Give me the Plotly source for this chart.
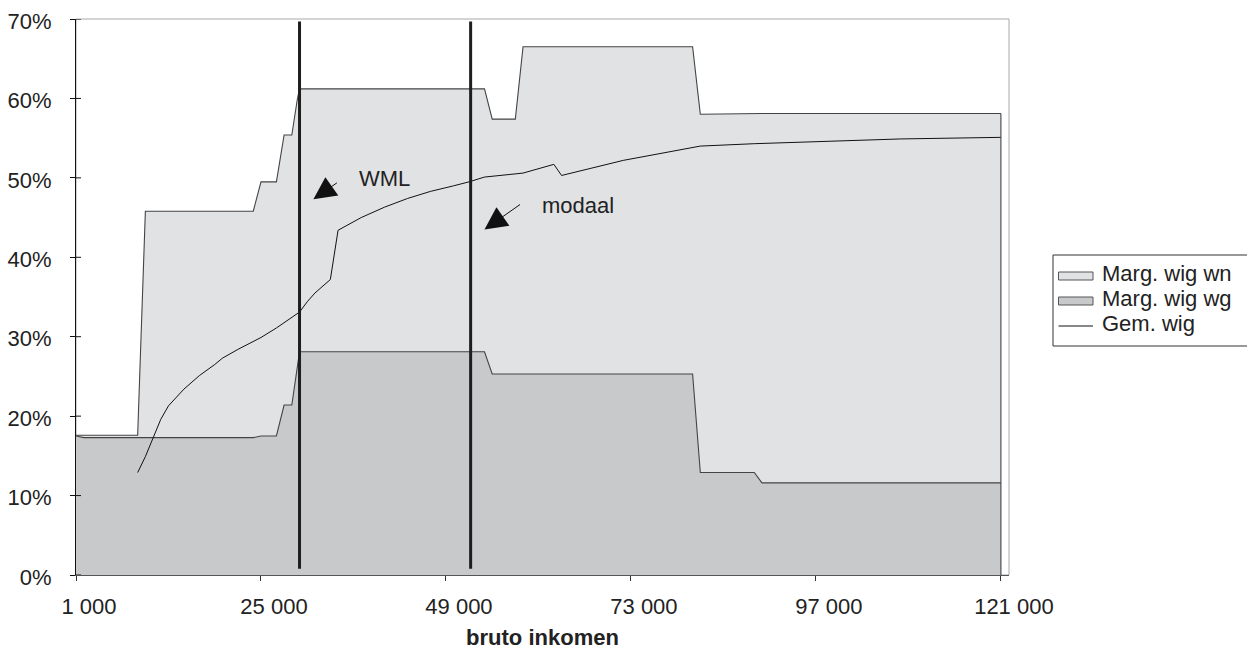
import plotly.graph_objects as go

# --- data -------------------------------------------------------------------
# Marginal wedge, employee ("Marg. wig wn"), in % of gross income
income_wn = [1000, 9000, 10000, 24000, 25000, 27000, 28000, 29000, 29700, 30000,
             54000, 55000, 58000, 59000, 81000, 82000, 90000, 121000]
marg_wn = [17.6, 17.6, 45.8, 45.8, 49.5, 49.5, 55.4, 55.4, 59.8, 61.2,
           61.2, 57.4, 57.4, 66.5, 66.5, 58.0, 58.1, 58.1]

# Marginal wedge, employer ("Marg. wig wg")
income_wg = [1000, 2000, 24000, 25000, 27000, 28000, 29000, 29700, 30000,
             54000, 55000, 81000, 82000, 89000, 90000, 121000]
marg_wg = [17.5, 17.3, 17.3, 17.5, 17.5, 21.4, 21.4, 26.4, 28.1,
           28.1, 25.3, 25.3, 12.9, 12.9, 11.6, 11.6]

# Average wedge ("Gem. wig")
income_avg = [9000, 10000, 12000, 13000, 15000, 17000, 19000, 20000, 22000, 24000,
              25000, 27000, 29000, 30000, 31000, 32000, 34000, 35000, 38000, 41000,
              44000, 47000, 50000, 52000, 54000, 59000, 63000, 64000, 72000, 82000,
              89000, 99000, 108000, 121000]
gem_wig = [12.9, 14.9, 19.6, 21.3, 23.4, 25.1, 26.5, 27.3, 28.4, 29.4,
           29.9, 31.1, 32.4, 33.1, 34.4, 35.5, 37.2, 43.4, 45.0, 46.3,
           47.4, 48.3, 49.0, 49.5, 50.1, 50.6, 51.7, 50.3, 52.2, 54.0,
           54.3, 54.6, 54.9, 55.1]

# Reference incomes
WML = 30000
MODAAL = 52200

x_tickvals = [1000, 25000, 49000, 73000, 97000, 121000]
x_ticktext = ["1 000", "25 000", "49 000", "73 000", "97 000", "121 000"]
y_tickvals = [0, 10, 20, 30, 40, 50, 60, 70]
y_ticktext = [f"{v}%" for v in y_tickvals]

series_names = ["Marg. wig wn", "Marg. wig wg", "Gem. wig"]

# --- styling ----------------------------------------------------------------
W, H = 1247, 650
ML, MR, MT, MB = 76, 238, 19, 75
PW, PH = W - ML - MR, H - MT - MB
FONT = "Liberation Sans, Arial, Helvetica, sans-serif"
TXT = "#222222"
LIGHT = "#e1e2e4"
DARK = "#c8c9cb"
EDGE = "#444444"


def px_x(px):
    return (px - ML) / PW


def px_y(py):
    return (H - MB - py) / PH


fig = go.Figure()

fig.add_trace(go.Scatter(
    x=income_wn, y=marg_wn, mode="lines", fill="tozeroy",
    fillcolor=LIGHT, line=dict(color=EDGE, width=1.1),
    name=series_names[0], showlegend=False, hoverinfo="skip"))

fig.add_trace(go.Scatter(
    x=income_wg, y=marg_wg, mode="lines", fill="tozeroy",
    fillcolor=DARK, line=dict(color=EDGE, width=1.1),
    name=series_names[1], showlegend=False, hoverinfo="skip"))

fig.add_trace(go.Scatter(
    x=income_avg, y=gem_wig, mode="lines",
    line=dict(color="#111111", width=1),
    name=series_names[2], showlegend=False, hoverinfo="skip"))

shapes = []
# plot area frame
shapes.append(dict(type="rect", xref="paper", yref="paper", x0=0, x1=1, y0=0, y1=1,
                   line=dict(color="#a8a8a8", width=1), layer="below"))
# right-hand edge of the area series
shapes.append(dict(type="line", xref="x", yref="y",
                   x0=income_wn[-1], x1=income_wn[-1], y0=0, y1=marg_wn[-1],
                   line=dict(color=EDGE, width=1.1)))
# inner halves of the crossing y ticks
for v in y_tickvals:
    shapes.append(dict(type="line", xref="paper", yref="y",
                       x0=0, x1=5 / PW, y0=v, y1=v,
                       line=dict(color="#111111", width=1)))
# WML and modaal markers
for xv in (WML, MODAAL):
    shapes.append(dict(type="line", xref="x", yref="y",
                       x0=xv, x1=xv, y0=0.8, y1=69.7,
                       line=dict(color="#1e1e1e", width=3)))

# legend, drawn by hand
shapes.append(dict(type="rect", xref="paper", yref="paper",
                   x0=px_x(1053), x1=px_x(1262), y0=px_y(346), y1=px_y(255),
                   line=dict(color="#333333", width=1), fillcolor="white"))
for (top, bot), col in zip([(272, 280), (297, 305)], [LIGHT, DARK]):
    shapes.append(dict(type="rect", xref="paper", yref="paper",
                       x0=px_x(1058.5), x1=px_x(1093), y0=px_y(bot), y1=px_y(top),
                       line=dict(color="#555555", width=1), fillcolor=col))
shapes.append(dict(type="line", xref="paper", yref="paper",
                   x0=px_x(1058.5), x1=px_x(1093), y0=px_y(326), y1=px_y(326),
                   line=dict(color="#111111", width=1)))

annotations = []
for name, yc in zip(series_names, [273.5, 298.5, 323.5]):
    annotations.append(dict(xref="paper", yref="paper", x=px_x(1100), y=px_y(yc),
                            text=name, showarrow=False, xanchor="left", yanchor="middle",
                            font=dict(family=FONT, size=22, color=TXT)))

# arrows with their labels
annotations.append(dict(x=31800, y=47.3, xref="x", yref="y", text="", showarrow=True,
                        ax=25, ay=-17.5, arrowhead=2, arrowsize=4.5, arrowwidth=1,
                        arrowcolor="#111111", standoff=0))
annotations.append(dict(x=41000, y=49.9, xref="x", yref="y", text="WML", showarrow=False,
                        font=dict(family=FONT, size=22, color=TXT)))
annotations.append(dict(x=54000, y=43.5, xref="x", yref="y", text="", showarrow=True,
                        ax=37, ay=-26, arrowhead=2, arrowsize=4.5, arrowwidth=1,
                        arrowcolor="#111111", standoff=0))
annotations.append(dict(x=66100, y=46.5, xref="x", yref="y", text="modaal", showarrow=False,
                        font=dict(family=FONT, size=22, color=TXT)))

fig.update_layout(
    width=W, height=H,
    margin=dict(l=ML, r=MR, t=MT, b=MB, pad=0, autoexpand=False),
    paper_bgcolor="white", plot_bgcolor="white",
    font=dict(family=FONT, size=22, color=TXT),
    shapes=shapes, annotations=annotations,
    showlegend=False,
)

fig.update_xaxes(
    range=[1000, 122050], tickvals=x_tickvals, ticktext=x_ticktext,
    ticks="outside", ticklen=5, tickcolor="#333333", tickwidth=1,
    showline=True, linecolor="#555555", linewidth=1.2, automargin=False,
    showgrid=False, zeroline=False, ticklabelshift=13, ticklabelstandoff=6,
    title=dict(text="<b>bruto inkomen</b>", font=dict(family=FONT, size=22, color=TXT),
               standoff=14),
)
fig.update_yaxes(
    range=[0, 70], tickvals=y_tickvals, ticktext=y_ticktext,
    ticks="outside", ticklen=5, tickcolor="#111111", tickwidth=1,
    showline=True, linecolor="#111111", linewidth=1, automargin=False,
    showgrid=False, zeroline=False, ticklabelstandoff=14, ticklabelshift=2,
)

fig.write_html("out.html")
